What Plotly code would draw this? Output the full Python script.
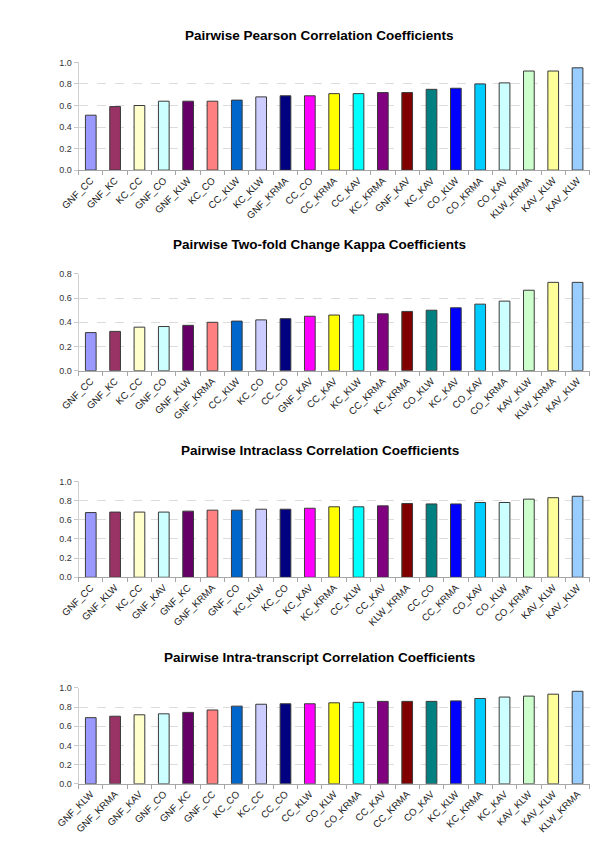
import plotly.graph_objects as go

# ---------------- data ----------------
colors = ["#9999FF", "#993366", "#FFFFCC", "#CCFFFF", "#660066", "#FF8080", "#0066CC",
          "#CCCCFF", "#000080", "#FF00FF", "#FFFF00", "#00FFFF", "#800080", "#800000",
          "#008080", "#0000FF", "#00CCFF", "#CCFFFF", "#CCFFCC", "#FFFF99", "#99CCFF"]

pearson_title = "Pairwise Pearson Correlation Coefficients"
pearson_labels = ["GNF_CC", "GNF_KC", "KC_CC", "GNF_CO", "GNF_KLW", "KC_CO", "CC_KLW", "KC_KLW",
                  "GNF_KRMA", "CC_CO", "CC_KRMA", "CC_KAV", "KC_KRMA", "GNF_KAV", "KC_KAV",
                  "CO_KLW", "CO_KRMA", "CO_KAV", "KLW_KRMA", "KAV_KLW", "KAV_KLW"]
pearson_values = [0.51, 0.59, 0.60, 0.64, 0.64, 0.64, 0.65, 0.68, 0.69, 0.69, 0.71, 0.71,
                  0.72, 0.72, 0.75, 0.76, 0.80, 0.81, 0.92, 0.92, 0.95]

kappa_title = "Pairwise Two-fold Change Kappa Coefficients"
kappa_labels = ["GNF_CC", "GNF_KC", "KC_CC", "GNF_CO", "GNF_KLW", "GNF_KRMA", "CC_KLW", "KC_CO",
                "CC_CO", "GNF_KAV", "CC_KAV", "KC_KLW", "CC_KRMA", "KC_KRMA", "CO_KLW", "KC_KAV",
                "CO_KAV", "CO_KRMA", "KAV_KLW", "KLW_KRMA", "KAV_KLW"]
kappa_values = [0.315, 0.325, 0.36, 0.365, 0.375, 0.40, 0.41, 0.42, 0.43, 0.45, 0.46, 0.46,
                0.47, 0.49, 0.50, 0.52, 0.55, 0.575, 0.665, 0.73, 0.73]

intraclass_title = "Pairwise Intraclass Correlation Coefficients"
intraclass_labels = ["GNF_CC", "GNF_KLW", "KC_CC", "GNF_KAV", "GNF_KC", "GNF_KRMA", "GNF_CO",
                     "KC_KLW", "KC_CO", "KC_KAV", "KC_KRMA", "CC_KLW", "CC_KAV", "KLW_KRMA",
                     "CC_CO", "CC_KRMA", "CO_KAV", "CO_KLW", "CO_KRMA", "KAV_KLW", "KAV_KLW"]
intraclass_values = [0.675, 0.68, 0.68, 0.68, 0.69, 0.70, 0.70, 0.71, 0.71, 0.72, 0.735, 0.735,
                     0.745, 0.77, 0.765, 0.765, 0.78, 0.78, 0.815, 0.83, 0.845]

transcript_title = "Pairwise Intra-transcript Correlation Coefficients"
transcript_labels = ["GNF_KLW", "GNF_KRMA", "GNF_KAV", "GNF_CO", "GNF_KC", "GNF_CC", "KC_CO",
                     "KC_CC", "CC_CO", "CC_KLW", "CO_KLW", "CO_KRMA", "CC_KAV", "CC_KRMA",
                     "CO_KAV", "KC_KLW", "KC_KRMA", "KC_KAV", "KAV_KLW", "KAV_KLW", "KLW_KRMA"]
transcript_values = [0.69, 0.705, 0.72, 0.73, 0.745, 0.77, 0.81, 0.83, 0.835, 0.835, 0.845,
                     0.85, 0.86, 0.86, 0.86, 0.865, 0.89, 0.905, 0.915, 0.935, 0.965]

panels = [
    (pearson_title, pearson_labels, pearson_values, 1.0),
    (kappa_title, kappa_labels, kappa_values, 0.8),
    (intraclass_title, intraclass_labels, intraclass_values, 1.0),
    (transcript_title, transcript_labels, transcript_values, 1.0),
]

# ---------------- layout geometry (pixels) ----------------
W, H = 600, 848
plot_px = [(50, 159), (264, 362), (474, 571), (683, 780)]   # (top gridline, zero line)
title_px = [23, 234, 443, 652]
x_left, x_right = 49.5, 581

FONT = "Liberation Sans, Arial, Helvetica, sans-serif"

fig = go.Figure()
layout = dict(
    width=W, height=H,
    margin=dict(l=0, r=0, t=0, b=0),
    paper_bgcolor="white", plot_bgcolor="white",
    showlegend=False,
    font=dict(family=FONT, size=9, color="#222222"),
    annotations=[],
)

for i, (title, labels, values, ymax) in enumerate(panels):
    n = len(labels)
    xs = list(range(n))
    suffix = "" if i == 0 else str(i + 1)
    fig.add_trace(go.Bar(
        x=xs, y=values,
        xaxis="x" + suffix, yaxis="y" + suffix,
        width=0.44,
        marker=dict(color=colors[:n], line=dict(color="#3a3a3a", width=1)),
        hovertemplate="%{text}: %{y:.2f}<extra></extra>",
        text=labels, textposition="none",
    ))
    top, zero = plot_px[i]
    layout["xaxis" + suffix] = dict(
        domain=[x_left / W, x_right / W],
        range=[-0.5, n - 0.5],
        anchor="y" + suffix,
        tickmode="array", tickvals=xs, ticktext=labels,
        tickangle=-45, ticks="",
        tickfont=dict(family=FONT, size=9.7, color="#222222"),
        showline=True, linecolor="#a6a6a6", linewidth=1,
        showgrid=False, zeroline=False,
        minor=dict(tickvals=[k - 0.5 for k in range(n + 1)], ticks="outside",
                   ticklen=4, tickcolor="#a6a6a6", showgrid=False),
        fixedrange=True,
    )
    layout["yaxis" + suffix] = dict(
        domain=[1 - zero / H, 1 - top / H],
        range=[0, ymax],
        anchor="x" + suffix,
        dtick=0.2, tickformat=".1f",
        ticks="outside", ticklen=4, tickcolor="#c8c8c8",
        tickfont=dict(family=FONT, size=9, color="#333333"),
        showline=True, linecolor="#d0d0d0", linewidth=1,
        showgrid=True, gridcolor="#dcdcdc", griddash="dash", gridwidth=1,
        zeroline=False,
        fixedrange=True,
    )
    layout["annotations"].append(dict(
        text="<b>" + title + "</b>",
        x=0.5, xref="paper", xanchor="center",
        y=1 - title_px[i] / H, yref="paper", yanchor="middle",
        showarrow=False,
        font=dict(family=FONT, size=13.5, color="#000000"),
    ))

fig.update_layout(**layout)
fig.write_html("out.html")
